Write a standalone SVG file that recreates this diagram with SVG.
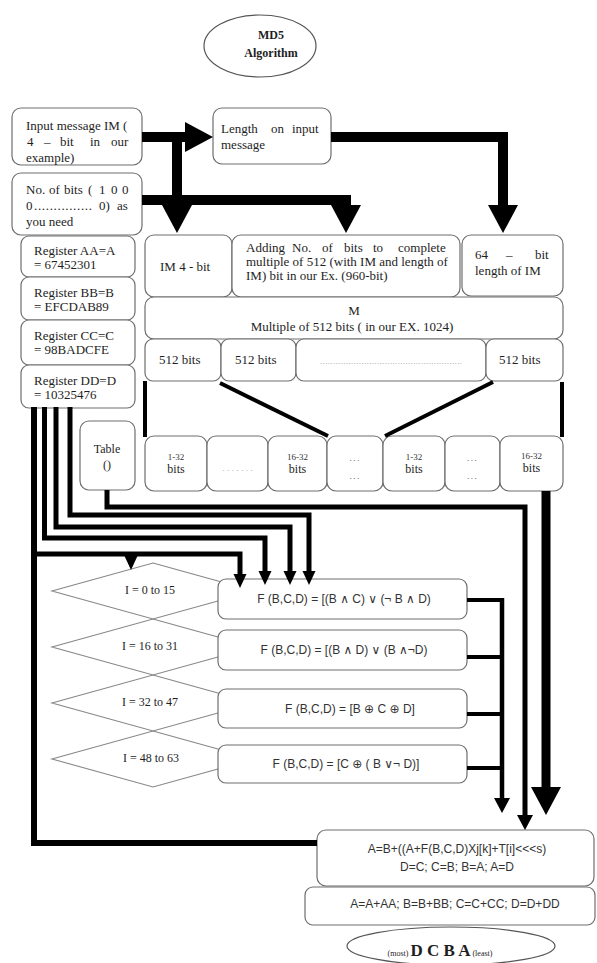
<svg xmlns="http://www.w3.org/2000/svg" width="597" height="963" viewBox="0 0 597 963">
<defs>
<style>
.box{fill:#fff;stroke:#6e6e6e;stroke-width:1.2}
.dia{fill:none;stroke:#888;stroke-width:1.1}
.sr{font-family:"Liberation Serif","Times New Roman",serif;font-size:13px;fill:#1e1e1e}
.sm{font-family:"Liberation Serif","Times New Roman",serif;font-size:12px;fill:#1e1e1e}
.tiny{font-family:"Liberation Serif","Times New Roman",serif;font-size:9px;fill:#333}
.dots{font-family:"Liberation Serif","Times New Roman",serif;font-size:9px;fill:#999}
.sn{font-family:"Liberation Sans",Arial,"DejaVu Sans",sans-serif;font-size:12px;fill:#333}
.b{font-weight:bold}
.mid{text-anchor:middle}
.thick{fill:none;stroke:#000;stroke-width:10;stroke-linejoin:miter}
.wire{fill:none;stroke:#000;stroke-width:5;stroke-linejoin:miter}
.thin{fill:none;stroke:#000;stroke-width:4}
</style>
<marker id="big" markerUnits="userSpaceOnUse" markerWidth="28" markerHeight="30" refX="0" refY="15" orient="auto" overflow="visible"><path d="M0,0 L28,15 L0,30 z" fill="#000"/></marker>
<marker id="med" markerUnits="userSpaceOnUse" markerWidth="15" markerHeight="16" refX="0" refY="8" orient="auto" overflow="visible"><path d="M0,0 L15,8 L0,16 z" fill="#000"/></marker>
<marker id="sml" markerUnits="userSpaceOnUse" markerWidth="14" markerHeight="13" refX="0" refY="6.5" orient="auto" overflow="visible"><path d="M0,0 L14,6.5 L0,13 z" fill="#000"/></marker>
</defs>
<rect width="597" height="963" fill="#fff"/>

<g id="md5">
<ellipse cx="260" cy="46" rx="56" ry="31" fill="#fff" stroke="#555" stroke-width="1.2"/>
<text class="sm b mid" x="271" y="39">MD5</text>
<text class="sm b mid" x="271" y="57">Algorithm</text>
</g>

<g id="input">
<rect class="box" x="12" y="108" width="130" height="57" rx="9"/>
<text class="sr" x="26" y="130">Input message IM (</text>
<text class="sr" y="146"><tspan x="27">4</tspan><tspan x="44">–</tspan><tspan x="60">bit</tspan><tspan x="90">in</tspan><tspan x="111">our</tspan></text>
<text class="sr" x="26" y="162">example)</text>
</g>

<g id="length">
<rect class="box" x="213" y="108" width="118" height="56" rx="9"/>
<text class="sr" y="133"><tspan x="221">Length</tspan><tspan x="271">on</tspan><tspan x="292">input</tspan></text>
<text class="sr" x="221" y="149">message</text>
</g>

<g id="nobits">
<rect class="box" x="12" y="173" width="130" height="62" rx="9"/>
<text class="sr" y="194"><tspan x="26">No.</tspan><tspan x="49">of</tspan><tspan x="64">bits</tspan><tspan x="88">(</tspan><tspan x="99">1</tspan><tspan x="111">0</tspan><tspan x="122">0</tspan></text>
<text class="sr" y="210"><tspan x="26">0</tspan><tspan x="34" textLength="58" lengthAdjust="spacing">...............</tspan><tspan x="99">0)</tspan><tspan x="117">as</tspan></text>
<text class="sr" x="26" y="226">you need</text>
</g>

<g id="regA">
<rect class="box" x="21" y="236" width="114" height="41" rx="8"/>
<text class="sr" x="34" y="255">Register AA=A</text>
<text class="sr" x="34" y="269">= 67452301</text>
</g>
<g id="regB">
<rect class="box" x="21" y="277" width="114" height="43" rx="8"/>
<text class="sr" x="34" y="297">Register BB=B</text>
<text class="sr" x="34" y="311">= EFCDAB89</text>
</g>
<g id="regC">
<rect class="box" x="21" y="320" width="114" height="45" rx="8"/>
<text class="sr" x="34" y="340">Register CC=C</text>
<text class="sr" x="34" y="354">= 98BADCFE</text>
</g>
<g id="regD">
<rect class="box" x="21" y="365" width="114" height="43" rx="8"/>
<text class="sr" x="34" y="385">Register DD=D</text>
<text class="sr" x="34" y="399">= 10325476</text>
</g>

<g id="im4">
<rect class="box" x="145" y="235" width="87" height="62" rx="9"/>
<text class="sr" x="160" y="271">IM 4 - bit</text>
</g>
<g id="adding">
<rect class="box" x="232" y="235" width="228" height="62" rx="9"/>
<text class="sr" y="252"><tspan x="246">Adding</tspan><tspan x="292">No.</tspan><tspan x="322">of</tspan><tspan x="344">bits</tspan><tspan x="373">to</tspan><tspan x="398">complete</tspan></text>
<text class="sr" x="246" y="266">multiple of 512 (with IM and length of</text>
<text class="sr" x="246" y="280">IM) bit in our Ex. (960-bit)</text>
</g>
<g id="len64">
<rect class="box" x="462" y="235" width="101" height="61" rx="9"/>
<text class="sr" y="259"><tspan x="475">64</tspan><tspan x="506">–</tspan><tspan x="535">bit</tspan></text>
<text class="sr" x="475" y="275">length of IM</text>
</g>

<g id="mblock">
<rect class="box" x="145" y="297" width="418" height="42" rx="9"/>
<text class="sr mid" x="354" y="315">M</text>
<text class="sr mid" x="352" y="331">Multiple of 512 bits ( in our EX. 1024)</text>
</g>

<g id="blk1"><rect class="box" x="145" y="339" width="76" height="42" rx="8"/><text class="sr" x="159" y="364">512 bits</text></g>
<g id="blk2"><rect class="box" x="221" y="339" width="75" height="42" rx="8"/><text class="sr" x="235" y="364">512 bits</text></g>
<g id="blk3"><rect class="box" x="296" y="339" width="190" height="42" rx="8"/><text class="dots" x="320" y="364" textLength="142" lengthAdjust="spacing">.......................................................</text></g>
<g id="blk4"><rect class="box" x="486" y="339" width="77" height="42" rx="8"/><text class="sr" x="499" y="364">512 bits</text></g>

<g id="table">
<rect class="box" x="80" y="421" width="55" height="69" rx="9"/>
<text class="sm mid" x="107" y="453">Table</text>
<text class="sm mid" x="107" y="469">()</text>
</g>

<g id="w1"><rect class="box" x="145" y="436" width="62" height="55" rx="9"/><text class="tiny mid" x="176" y="460">1-32</text><text class="sm mid" x="176" y="473">bits</text></g>
<g id="w2"><rect class="box" x="207" y="436" width="61" height="55" rx="9"/><text class="dots mid" x="237.5" y="471" textLength="30" lengthAdjust="spacing">.......</text></g>
<g id="w3"><rect class="box" x="268" y="436" width="59" height="55" rx="9"/><text class="tiny mid" x="297.5" y="460">16-32</text><text class="sm mid" x="297.5" y="473">bits</text></g>
<g id="w4"><rect class="box" x="327" y="436" width="56" height="55" rx="9"/><text class="tiny mid" x="355" y="461" letter-spacing="1.5">...</text><text class="tiny mid" x="355" y="479" letter-spacing="1.5">...</text></g>
<g id="w5"><rect class="box" x="383" y="436" width="62" height="55" rx="9"/><text class="tiny mid" x="414" y="460">1-32</text><text class="sm mid" x="414" y="473">bits</text></g>
<g id="w6"><rect class="box" x="445" y="436" width="55" height="55" rx="9"/><text class="tiny mid" x="472.5" y="461" letter-spacing="1.5">...</text><text class="tiny mid" x="472.5" y="479" letter-spacing="1.5">...</text></g>
<g id="w7"><rect class="box" x="500" y="436" width="63" height="55" rx="9"/><text class="tiny mid" x="531.5" y="459">16-32</text><text class="sm mid" x="531.5" y="472">bits</text></g>

<g id="d1"><polygon class="dia" points="153,563 254,591 153,619 52,591"/><text class="sm mid" x="150" y="594">I = 0 to 15</text></g>
<g id="d2"><polygon class="dia" points="153,619 254,647 153,675 52,647"/><text class="sm mid" x="150" y="650">I = 16 to 31</text></g>
<g id="d3"><polygon class="dia" points="153,675 254,703 153,731 52,703"/><text class="sm mid" x="150" y="706">I = 32 to 47</text></g>
<g id="d4"><polygon class="dia" points="153,731 254,759 153,787 52,759"/><text class="sm mid" x="151" y="762">I = 48 to 63</text></g>

<g id="f1"><rect class="box" x="218" y="579" width="249" height="40" rx="8"/><text class="sn mid" x="344" y="603">F (B,C,D) = [(B ∧ C) ∨ (¬ B ∧ D)</text></g>
<g id="f2"><rect class="box" x="218" y="630" width="249" height="40" rx="8"/><text class="sn mid" x="344" y="654">F (B,C,D) = [(B ∧ D) ∨ (B ∧¬D)</text></g>
<g id="f3"><rect class="box" x="218" y="689" width="249" height="39" rx="8"/><text class="sn mid" x="350" y="713">F (B,C,D) = [B ⊕ C ⊕ D]</text></g>
<g id="f4"><rect class="box" x="218" y="745" width="249" height="38" rx="8"/><text class="sn mid" x="346" y="768">F (B,C,D) = [C ⊕ ( B ∨¬ D)]</text></g>

<g id="round">
<rect class="box" x="317" y="830" width="277" height="56" rx="9"/>
<text class="sn mid" x="457" y="853">A=B+((A+F(B,C,D)Xj[k]+T[i]&lt;&lt;&lt;s)</text>
<text class="sn mid" x="457" y="871">D=C; C=B; B=A; A=D</text>
</g>
<g id="final">
<rect class="box" x="305" y="887" width="290" height="38" rx="8"/>
<text class="sn mid" x="455" y="908">A=A+AA; B=B+BB; C=C+CC; D=D+DD</text>
</g>
<g id="output">
<ellipse cx="451" cy="946" rx="104" ry="19" fill="#fff" stroke="#555" stroke-width="1.2"/>
<text class="sr" x="440" y="956" text-anchor="middle"><tspan font-size="8">(most) </tspan><tspan font-size="17" font-weight="bold">D C B A</tspan><tspan font-size="8"> (least)</tspan></text>
</g>

<g id="connectors">
<path class="thick" d="M142,137 H185" marker-end="url(#big)"/>
<path class="thick" d="M177,132 V205" marker-end="url(#big)"/>
<path class="thick" d="M142,200 H346 V205" marker-end="url(#big)"/>
<path class="thick" d="M331,137 H503 V205" marker-end="url(#big)"/>

<path class="thin" d="M145,381 V437"/>
<path class="thin" d="M220,383 L328,436"/>
<path class="thin" d="M493,382 L385,436"/>
<path class="thin" d="M562,382 V437"/>

<path class="wire" style="stroke-width:6" d="M34,407 V843 H317"/>
<path class="wire" d="M34,554 H240 V574" marker-end="url(#sml)"/>
<path class="wire" d="M131,554 V556" marker-end="url(#sml)"/>
<path class="wire" d="M44.5,407 V538 H265 V571" marker-end="url(#sml)"/>
<path class="wire" d="M56,407 V527 H290 V571" marker-end="url(#sml)"/>
<path class="wire" d="M70,407 V515 H309 V571" marker-end="url(#sml)"/>
<path class="wire" d="M107,490 V507 H525 V815" marker-end="url(#med)"/>

<path class="thin" d="M467,600 H502 M467,657 H502 M467,714 H502 M467,768 H502"/>
<path class="wire" style="stroke-width:4.5" d="M502,598 V798" marker-end="url(#med)"/>
<path class="thick" style="stroke-width:9" d="M546,491 V787" marker-end="url(#big)"/>
</g>
</svg>
